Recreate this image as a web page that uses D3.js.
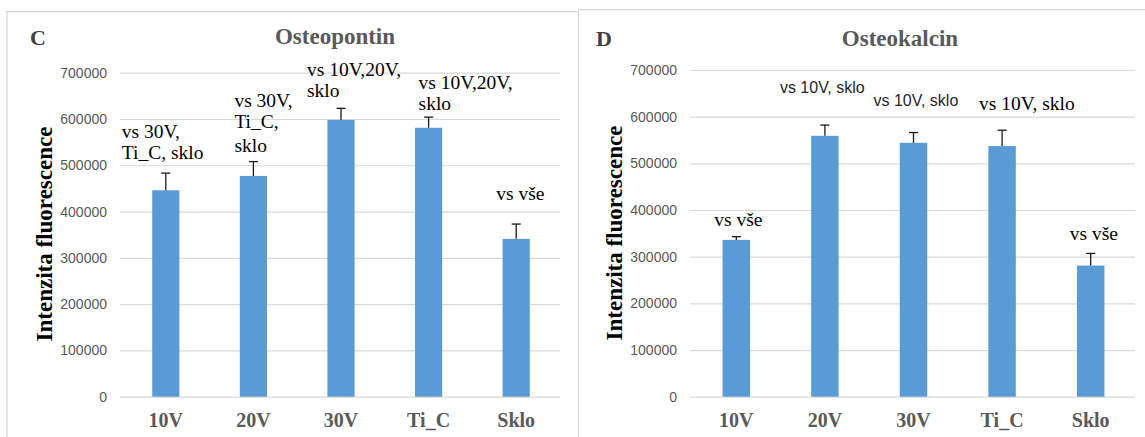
<!DOCTYPE html>
<html>
<head>
<meta charset="utf-8">
<script src="https://cdn.jsdelivr.net/npm/d3@7"></script>
<style>
  html, body { margin: 0; padding: 0; background: #fff; }
  svg { display: block; }
</style>
</head>
<body>
<svg id="chart" width="1145" height="437"></svg>
<script>
// ---------------- data ----------------
const categories = ["10V", "20V", "30V", "Ti_C", "Sklo"];
const yTickValues = [0, 100000, 200000, 300000, 400000, 500000, 600000, 700000];

const osteopontinValues = [446000, 477000, 598000, 581000, 341000];
const osteopontinErrors = [37000, 31000, 25000, 23000, 32000];
const osteopontinNotes = [
  ["vs 30V,", "Ti_C, sklo"],
  ["vs 30V,", "Ti_C,", "sklo"],
  ["vs 10V,20V,", "sklo"],
  ["vs 10V,20V,", "sklo"],
  ["vs vše"]
];

const osteokalcinValues = [336000, 559000, 544000, 537000, 281000];
const osteokalcinErrors = [7000, 23000, 22000, 34000, 26000];
const osteokalcinNotes = [
  ["vs vše"],
  ["vs 10V, sklo"],
  ["vs 10V, sklo"],
  ["vs 10V, sklo"],
  ["vs vše"]
];

const yAxisTitle = "Intenzita fluorescence";

// ---------------- layout ----------------
const SERIF = "'Liberation Serif', 'Times New Roman', serif";
const SANS = "'Liberation Sans', Arial, sans-serif";
const BAR = "#5b9bd5";
const GRID = "#d9d9d9";
const GRAYTEXT = "#595959";

const panels = [
  {
    letter: "C", title: "Osteopontin",
    values: osteopontinValues, errors: osteopontinErrors, notes: osteopontinNotes,
    xRange: [122, 560], gridX: [120, 560], y0: 396.7, yTop: 72.7,
    letterX: 30, letterY: 45, titleX: 335, titleY: 44,
    yTitleX: 52, yTitleY: 234,
    noteLayout: [
      { dx: -44, ys: [138, 159], font: "serif" },
      { dx: -19, ys: [107, 128, 152], font: "serif" },
      { dx: -34, ys: [76, 97], font: "serif" },
      { dx: -10, ys: [89, 110], font: "serif" },
      { dx: -20, ys: [200], font: "serif" }
    ]
  },
  {
    letter: "D", title: "Osteokalcin",
    values: osteokalcinValues, errors: osteokalcinErrors, notes: osteokalcinNotes,
    xRange: [692, 1135], gridX: [690, 1135], y0: 396.7, yTop: 70,
    letterX: 596, letterY: 46, titleX: 900, titleY: 46,
    yTitleX: 622, yTitleY: 233,
    noteLayout: [
      { dx: -22, ys: [226], font: "serif" },
      { dx: -45, ys: [93], font: "sans" },
      { dx: -40, ys: [106], font: "sans" },
      { dx: -23, ys: [110], font: "serif" },
      { dx: -21, ys: [240], font: "serif" }
    ]
  }
];

const svg = d3.select("#chart");

// panel frames (spreadsheet-like borders)
const frame = svg.append("g").attr("stroke", "#d6d6d6").attr("stroke-width", 1.2).attr("fill", "none");
frame.append("line").attr("x1", 5).attr("x2", 579).attr("y1", 11.7).attr("y2", 11.7);
frame.append("line").attr("x1", 7).attr("x2", 7).attr("y1", 11.7).attr("y2", 437);
frame.append("line").attr("x1", 578.5).attr("x2", 578.5).attr("y1", 9.7).attr("y2", 437);
frame.append("line").attr("x1", 578.5).attr("x2", 1145).attr("y1", 9.7).attr("y2", 9.7);

panels.forEach(p => {
  const g = svg.append("g");

  const x = d3.scaleBand()
    .domain(categories)
    .range(p.xRange)
    .paddingInner(0.69)
    .paddingOuter(0.345);

  const y = d3.scaleLinear()
    .domain([0, 700000])
    .range([p.y0, p.yTop]);

  // y axis with gridlines
  const yAxis = d3.axisLeft(y)
    .tickValues(yTickValues)
    .tickFormat(d3.format("d"))
    .tickSizeInner(-(p.gridX[1] - p.gridX[0]))
    .tickSizeOuter(0)
    .tickPadding(13);

  const ag = g.append("g")
    .attr("transform", `translate(${p.gridX[0]},0)`)
    .call(yAxis);
  ag.select(".domain").remove();
  ag.selectAll(".tick line").attr("stroke", GRID).attr("stroke-width", 1.2);
  ag.selectAll(".tick text")
    .attr("fill", GRAYTEXT)
    .style("font-family", SANS)
    .style("font-size", "14px");

  // bars
  g.selectAll("rect.bar")
    .data(categories)
    .join("rect")
    .attr("class", "bar")
    .attr("x", d => x(d))
    .attr("width", x.bandwidth())
    .attr("y", (d, i) => y(p.values[i]))
    .attr("height", (d, i) => y(0) - y(p.values[i]))
    .attr("fill", BAR);

  // error bars (positive only)
  const eg = g.append("g").attr("stroke", "#1a1a1a").attr("stroke-width", 1.3);
  categories.forEach((c, i) => {
    const cx = x(c) + x.bandwidth() / 2;
    const top = y(p.values[i] + p.errors[i]);
    eg.append("line").attr("x1", cx).attr("x2", cx)
      .attr("y1", y(p.values[i])).attr("y2", top);
    eg.append("line").attr("x1", cx - 4.5).attr("x2", cx + 4.5)
      .attr("y1", top).attr("y2", top);
  });

  // x labels
  g.selectAll("text.xlab")
    .data(categories)
    .join("text")
    .attr("class", "xlab")
    .attr("x", d => x(d) + x.bandwidth() / 2)
    .attr("y", 426.7)
    .attr("text-anchor", "middle")
    .attr("fill", GRAYTEXT)
    .style("font-family", SERIF)
    .style("font-weight", "bold")
    .style("font-size", "20px")
    .text(d => d);

  // annotations
  categories.forEach((c, i) => {
    const lay = p.noteLayout[i];
    const cx = x(c) + x.bandwidth() / 2;
    p.notes[i].forEach((line, k) => {
      g.append("text")
        .attr("x", cx + lay.dx)
        .attr("y", lay.ys[k])
        .attr("fill", lay.font === "sans" ? "#262626" : "#000")
        .style("font-family", lay.font === "sans" ? SANS : SERIF)
        .style("font-size", lay.font === "sans" ? "16px" : "19.5px")
        .text(line);
    });
  });

  // panel letter
  g.append("text")
    .attr("x", p.letterX).attr("y", p.letterY)
    .attr("fill", "#404040")
    .style("font-family", SERIF).style("font-weight", "bold").style("font-size", "22px")
    .text(p.letter);

  // title
  g.append("text")
    .attr("x", p.titleX).attr("y", p.titleY)
    .attr("text-anchor", "middle")
    .attr("fill", GRAYTEXT)
    .style("font-family", SERIF).style("font-weight", "bold").style("font-size", "23px")
    .text(p.title);

  // y axis title
  g.append("text")
    .attr("transform", `translate(${p.yTitleX},${p.yTitleY}) rotate(-90)`)
    .attr("text-anchor", "middle")
    .attr("fill", "#000")
    .style("font-family", SERIF).style("font-weight", "bold").style("font-size", "23px")
    .text(yAxisTitle);
});
</script>
</body>
</html>
